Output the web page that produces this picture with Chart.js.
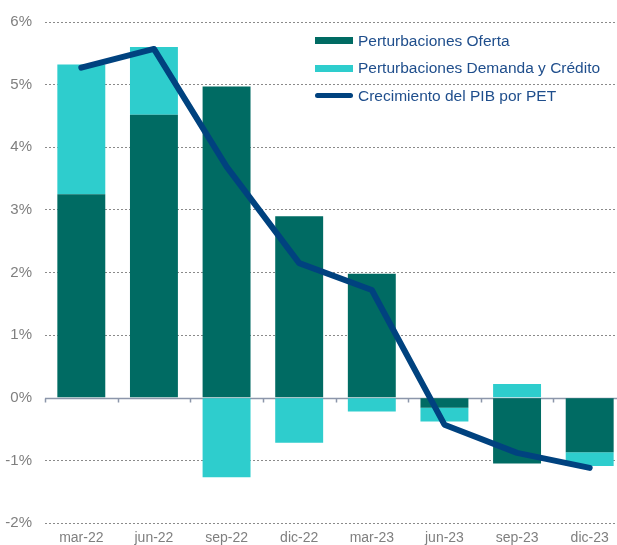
<!DOCTYPE html>
<html>
<head>
<meta charset="utf-8">
<script src="https://cdn.jsdelivr.net/npm/chart.js@4"></script>
<style>
    html, body { margin: 0; padding: 0; background: #fff; overflow: hidden; }
    #wrap { position: relative; width: 630px; height: 545px; }
    #legend { position: absolute; left: 315px; top: 27px; font: 15.5px "Liberation Sans", Arial, sans-serif; color: #1F4E8C; }
    .row { height: 27.5px; display: flex; align-items: center; white-space: nowrap; }
    .sw { width: 38px; margin-right: 5px; }
</style>
</head>
<body>
<div id="wrap">
    <canvas id="pibChart"></canvas>
    <div id="legend"></div>
</div>
<script>
/* datos */
const labels = ["mar-22", "jun-22", "sep-22", "dic-22", "mar-23", "jun-23", "sep-23", "dic-23"];
const oferta = [3.25, 4.52, 4.97, 2.90, 1.98, -0.16, -1.05, -0.87];
const demanda = [2.07, 1.08, -1.27, -0.72, -0.22, -0.22, 0.22, -0.22];
const pib = [5.27, 5.57, 3.69, 2.15, 1.72, -0.43, -0.88, -1.12];
const yTicks = [-2, -1, 0, 1, 2, 3, 4, 5, 6];

const FONT = "'Liberation Sans', Arial, sans-serif";

// linea del cero con marcas de categoria
const zeroAxis = {
    id: "zeroAxis",
    beforeDatasetsDraw(chart) {
        const { ctx, chartArea, scales } = chart;
        const y = Math.round(scales.y.getPixelForValue(0)) + 0.5;
        const step = scales.x.getPixelForValue(1) - scales.x.getPixelForValue(0);
        ctx.save();
        ctx.strokeStyle = "#8C96AA";
        ctx.lineWidth = 1.5;
        ctx.beginPath();
        ctx.moveTo(chartArea.left, y);
        ctx.lineTo(chartArea.right, y);
        for (let i = 0; i <= labels.length; i++) {
            const x = Math.round(scales.x.getPixelForValue(i) - step / 2) + 0.5;
            ctx.moveTo(x, y);
            ctx.lineTo(x, y + 4);
        }
        ctx.stroke();
        ctx.restore();
    }
};

const chart = new Chart(document.getElementById("pibChart"), {
    type: "bar",
    data: {
        labels,
        datasets: [
            {
                type: "line",
                label: "Crecimiento del PIB por PET",
                data: pib,
                borderColor: "#00427F",
                backgroundColor: "#00427F",
                borderWidth: 6,
                borderCapStyle: "round",
                borderJoinStyle: "round",
                pointRadius: 0,
                tension: 0,
                order: 0
            },
            {
                label: "Perturbaciones Oferta",
                data: oferta,
                backgroundColor: "#006B63",
                stack: "s",
                order: 1
            },
            {
                label: "Perturbaciones Demanda y Crédito",
                data: demanda,
                backgroundColor: "#2ECDCD",
                stack: "s",
                order: 1
            }
        ]
    },
    options: {
        responsive: true,
        maintainAspectRatio: false,
        animation: false,
        layout: { padding: { top: 21, right: 4, left: 0, bottom: 0 } },
        datasets: {
            bar: { barPercentage: 0.66, categoryPercentage: 1 }
        },
        plugins: {
            legend: { display: false },
            tooltip: { enabled: false }
        },
        scales: {
            x: {
                stacked: true,
                grid: { display: false, drawTicks: false },
                border: { display: false },
                ticks: { color: "#7F7F7F", font: { family: FONT, size: 14 }, padding: 7, maxRotation: 0 },
                afterFit(scale) { scale.height = 22; }
            },
            y: {
                stacked: true,
                min: -2,
                max: 6,
                afterBuildTicks(scale) { scale.ticks = yTicks.map(v => ({ value: v })); },
                grid: {
                    drawTicks: false,
                    color: ctx => ctx.tick && ctx.tick.value === 0 ? "rgba(0,0,0,0)" : "#8A8A8A",
                    lineWidth: 1
                },
                border: { display: false, dash: [2, 2] },
                ticks: {
                    color: "#7F7F7F",
                    font: { family: FONT, size: 15 },
                    padding: 13,
                    callback: v => v + "%"
                },
                afterFit(scale) { scale.width = 45; }
            }
        }
    },
    plugins: [zeroAxis]
});

// leyenda en html
const legendOrder = [1, 2, 0];
document.getElementById("legend").innerHTML = legendOrder.map(i => {
    const ds = chart.data.datasets[i];
    const sw = ds.type === "line"
        ? `<span class="sw" style="height:5px;border-radius:3px;background:${ds.borderColor}"></span>`
        : `<span class="sw" style="height:7px;background:${ds.backgroundColor}"></span>`;
    return `<div class="row">${sw}<span>${ds.label}</span></div>`;
}).join("");
</script>
</body>
</html>
